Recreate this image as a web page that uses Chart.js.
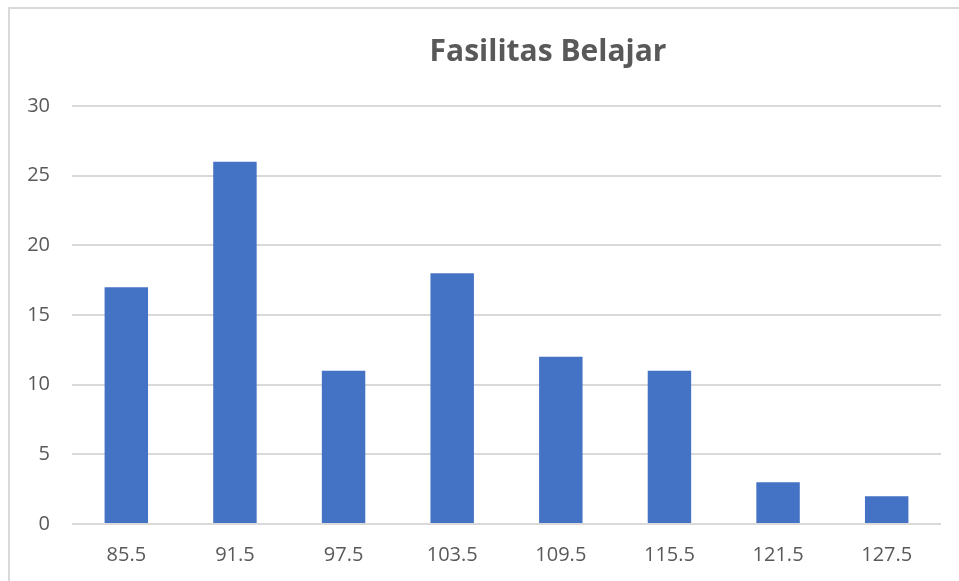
<!DOCTYPE html>
<html>
<head>
<meta charset="utf-8">
<script src="https://cdn.jsdelivr.net/npm/chart.js@4"></script>
<style>
    html, body { margin: 0; padding: 0; background: #fff; overflow: hidden; }
    #frame { position: absolute; left: 8px; top: 7px; width: 1090px; height: 600px; border: 2px solid #d9d9d9; }
    #chart { display: block; }
</style>
</head>
<body>
<div id="frame"><canvas id="chart" width="1079" height="576"></canvas></div>
<script>
const categories = ['85.5', '91.5', '97.5', '103.5', '109.5', '115.5', '121.5', '127.5'];
const counts = [17, 26, 11, 18, 12, 11, 3, 2];
const chartTitle = 'Fasilitas Belajar';

// the original title sits right of the plot centre (the source chart is wider than the crop)
const offsetTitle = {
    id: 'offsetTitle',
    afterDraw(chart) {
        const c = chart.ctx;
        c.save();
        c.font = 'bold 30px "Open Sans"';
        c.fillStyle = '#595959';
        c.textAlign = 'center';
        c.textBaseline = 'middle';
        c.fillText(chartTitle, 538, 43);
        c.restore();
    }
};

document.addEventListener('DOMContentLoaded', () => {
    const ctx = document.getElementById('chart');
    new Chart(ctx, {
        type: 'bar',
        data: {
            labels: categories,
            datasets: [{
                data: counts,
                backgroundColor: '#4472C4',
                borderWidth: 0,
                categoryPercentage: 1,
                barPercentage: 0.4
            }]
        },
        options: {
            responsive: false,
            animation: false,
            layout: { padding: { left: 0, right: 148, top: 97, bottom: 0 } },
            plugins: {
                legend: { display: false },
                tooltip: { enabled: false },
                title: { display: false }
            },
            scales: {
                x: {
                    grid: { display: false, drawTicks: false },
                    border: { display: false },
                    ticks: { color: '#595959', font: { family: 'Open Sans', size: 20 }, padding: 19 },
                    afterFit: (scale) => { scale.height = 61; }
                },
                y: {
                    min: 0,
                    max: 30,
                    ticks: { stepSize: 5, color: '#595959', font: { family: 'Open Sans', size: 20 }, padding: 22 },
                    grid: { color: '#d9d9d9', lineWidth: 2, drawTicks: false },
                    border: { display: false },
                    afterFit: (scale) => { scale.width = 62; }
                }
            }
        },
        plugins: [offsetTitle]
    });
});
</script>
</body>
</html>
